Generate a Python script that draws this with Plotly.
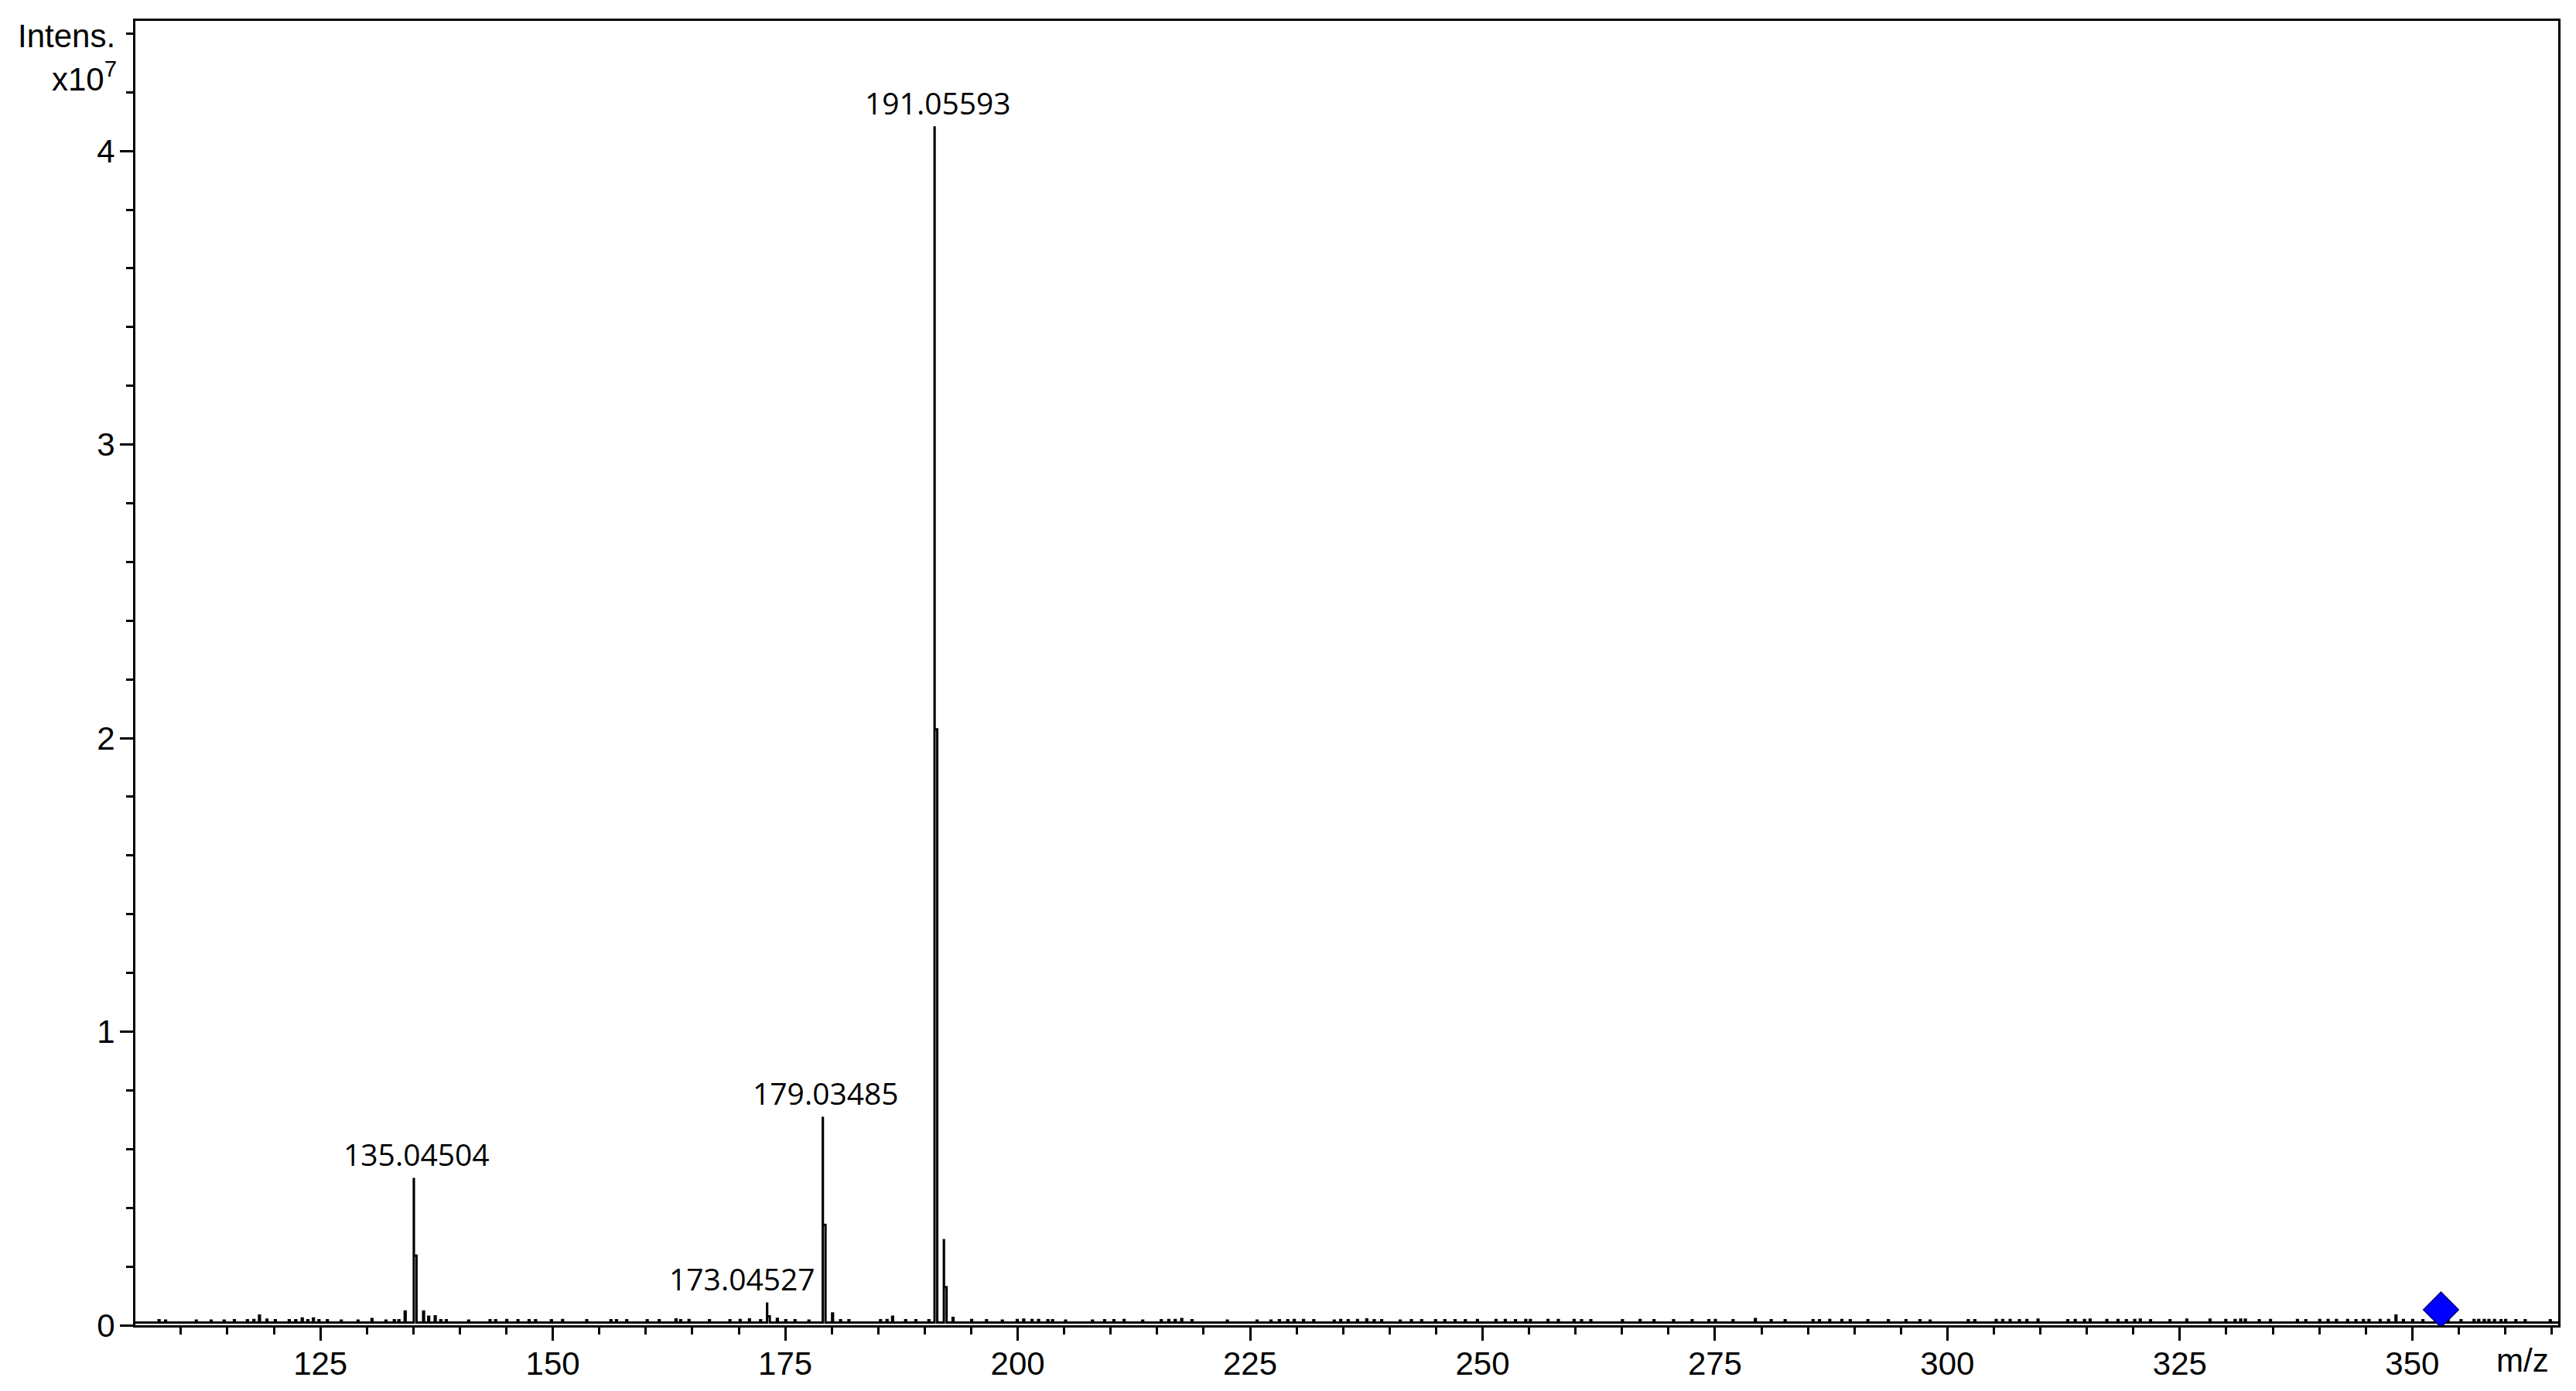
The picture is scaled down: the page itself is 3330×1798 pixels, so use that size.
import plotly.graph_objects as go

# ---------------- data (intensity in units of 1e7) ----------------
# profile points of the main peaks (apex followed by the lower shoulder point)
peak_mz = [134.07, 135.045, 135.06, 136.05, 137.3, 173.045, 173.06, 179.035, 179.05,
           180.04, 191.056, 191.07, 192.06, 192.075, 193.0]
peak_int = [0.047, 0.498, 0.237, 0.047, 0.03, 0.074, 0.03, 0.706, 0.342,
            0.04, 4.08, 2.03, 0.29, 0.13, 0.025]

noise_floor = 0.009
# baseline noise: (m/z, height above the noise floor)
noise_spikes = [
    (107.6, 0.008), (108.3, 0.007), (111.6, 0.007), (113.2, 0.007), (114.6, 0.007), (115.7, 0.008),
    (117.1, 0.008), (117.8, 0.009), (118.4, 0.024), (119.2, 0.010), (120.1, 0.008), (121.6, 0.008),
    (122.3, 0.008), (123.0, 0.014), (123.6, 0.008), (124.2, 0.014), (124.8, 0.008), (125.7, 0.008),
    (127.2, 0.007), (129.0, 0.007), (130.5, 0.012), (132.0, 0.007), (132.9, 0.008), (133.4, 0.008),
    (136.6, 0.020), (137.9, 0.008), (138.5, 0.008), (140.9, 0.007), (143.2, 0.008), (143.8, 0.008),
    (145.0, 0.009), (146.2, 0.008), (147.4, 0.008), (148.1, 0.008), (149.8, 0.008), (151.0, 0.009),
    (153.6, 0.008), (156.2, 0.008), (156.8, 0.008), (157.9, 0.008), (160.1, 0.008), (161.4, 0.008),
    (163.2, 0.011), (163.7, 0.008), (164.6, 0.009), (166.8, 0.008), (169.0, 0.008), (170.1, 0.009),
    (171.1, 0.011), (172.3, 0.008), (174.1, 0.013), (175.0, 0.008), (176.0, 0.008), (177.5, 0.007),
    (180.9, 0.008), (181.8, 0.008), (185.2, 0.008), (185.9, 0.009), (186.5, 0.020), (187.9, 0.008),
    (189.0, 0.008), (190.4, 0.008), (195.0, 0.009), (196.6, 0.008), (198.3, 0.007), (199.9, 0.009),
    (200.6, 0.010), (201.5, 0.009), (202.2, 0.009), (203.2, 0.008), (203.7, 0.008), (205.1, 0.007),
    (208.0, 0.007), (209.3, 0.008), (210.3, 0.008), (211.4, 0.009), (213.4, 0.007), (215.4, 0.008),
    (216.2, 0.009), (216.9, 0.009), (217.6, 0.012), (218.7, 0.008), (222.5, 0.007), (225.7, 0.007),
    (227.2, 0.007), (228.1, 0.008), (229.0, 0.008), (229.7, 0.009), (230.7, 0.009), (231.8, 0.008),
    (234.0, 0.007), (234.7, 0.009), (235.5, 0.008), (236.5, 0.009), (237.5, 0.011), (238.3, 0.008),
    (239.1, 0.008), (241.1, 0.007), (242.3, 0.008), (243.4, 0.008), (244.9, 0.008), (245.9, 0.008),
    (247.0, 0.008), (248.1, 0.008), (249.4, 0.009), (251.4, 0.009), (252.4, 0.009), (253.5, 0.008),
    (254.6, 0.009), (255.1, 0.009), (257.0, 0.009), (258.1, 0.009), (259.8, 0.009), (260.6, 0.008),
    (261.6, 0.008), (265.0, 0.008), (266.9, 0.009), (268.4, 0.008), (270.5, 0.008), (272.5, 0.008),
    (274.3, 0.008), (275.0, 0.009), (276.9, 0.008), (279.3, 0.012), (281.0, 0.008), (282.5, 0.008),
    (285.5, 0.008), (286.2, 0.008), (287.3, 0.009), (288.6, 0.009), (289.5, 0.008), (291.4, 0.008),
    (293.6, 0.008), (295.5, 0.008), (297.0, 0.008), (298.1, 0.007), (302.2, 0.008), (302.9, 0.008),
    (305.2, 0.009), (305.9, 0.009), (306.7, 0.009), (307.7, 0.008), (308.5, 0.009), (309.7, 0.010),
    (312.9, 0.008), (313.7, 0.009), (314.7, 0.009), (315.3, 0.010), (317.1, 0.009), (318.3, 0.009),
    (319.2, 0.008), (320.1, 0.009), (320.7, 0.010), (321.8, 0.008), (323.9, 0.008), (325.7, 0.010),
    (328.2, 0.010), (329.9, 0.009), (330.9, 0.009), (331.5, 0.010), (332.0, 0.010), (333.5, 0.008),
    (334.7, 0.009), (337.6, 0.009), (338.5, 0.008), (340.0, 0.009), (340.9, 0.009), (341.8, 0.009),
    (343.0, 0.009), (343.9, 0.008), (344.7, 0.009), (345.3, 0.009), (346.5, 0.009), (347.4, 0.009),
    (348.2, 0.024), (349.0, 0.009), (350.0, 0.009), (351.1, 0.008), (352.7, 0.009), (353.8, 0.008),
    (355.2, 0.008), (356.6, 0.009), (357.1, 0.009), (357.7, 0.009), (358.2, 0.009), (358.8, 0.009),
    (359.5, 0.008), (360.0, 0.009), (361.1, 0.008), (362.1, 0.008), (364.8, 0.008),
]

label_mz = [135.04504, 173.04527, 179.03485, 191.05593]
label_int = [0.498, 0.074, 0.706, 4.08]
label_text = ["135.04504", "173.04527", "179.03485", "191.05593"]
label_xshift = [4, -32, 4, 4]

precursor_mz = [353.09]
precursor_int = [0.053]

x_range = [105.1, 365.7]
y_range = [0.0, 4.443]

# ---------------- build profile line ----------------
pts = sorted([(m, h, True) for m, h in zip(peak_mz, peak_int)] +
             [(m, noise_floor + h, False) for m, h in noise_spikes])
xs, ys = [x_range[0]], [noise_floor]
for i, (m, h, is_peak) in enumerate(pts):
    xs.append(m)
    ys.append(h)
    nxt = pts[i + 1][0] if i + 1 < len(pts) else None
    if nxt is None or nxt - m > 0.25:
        grouped = is_peak and i > 0 and m - pts[i - 1][0] < 0.25
        xs.append(m + (0.28 if grouped else 0.1))
        ys.append(noise_floor)
xs.append(x_range[1])
ys.append(noise_floor)

tick_font = dict(family="Liberation Sans Narrow, Liberation Sans, Arial", size=42, color="black")
label_font = dict(family="Open Sans, Noto Sans, DejaVu Sans", size=39, color="black")

fig = go.Figure()
fig.add_trace(go.Scatter(x=xs, y=ys, mode="lines", line=dict(color="black", width=3, shape="hv"),
                         hoverinfo="skip", showlegend=False))
fig.add_trace(go.Scatter(x=precursor_mz, y=precursor_int, mode="markers",
                         marker=dict(symbol="diamond", size=35, color="#0000FF",
                                     line=dict(color="#000080", width=1.5)),
                         showlegend=False))

for m, h, t, dx in zip(label_mz, label_int, label_text, label_xshift):
    fig.add_annotation(x=m, y=h, text=t, showarrow=False, xanchor="center", yanchor="bottom",
                       yshift=4, xshift=dx, font=label_font)

fig.add_annotation(xref="paper", yref="paper", x=0, y=0.9887, text="Intens.", showarrow=False,
                   xanchor="right", yanchor="middle", xshift=-24, font=tick_font)
fig.add_annotation(xref="paper", yref="paper", x=0, y=0.957, text="x10<sup>7</sup>", showarrow=False,
                   xanchor="right", yanchor="middle", xshift=-22, font=tick_font)
fig.add_annotation(xref="paper", yref="paper", x=1, y=-0.027, text="m/z", showarrow=False,
                   xanchor="right", yanchor="middle", xshift=-10, font=tick_font)

fig.update_xaxes(range=x_range, showline=True, linecolor="black", linewidth=3, mirror=True,
                 showgrid=False, zeroline=False, tick0=0, dtick=25, ticks="outside",
                 ticklen=17, tickwidth=3, tickcolor="black", tickfont=tick_font,
                 ticklabelstandoff=-6, automargin=False,
                 minor=dict(dtick=5, ticks="outside", ticklen=9, tickwidth=3, tickcolor="black",
                            showgrid=False))
fig.update_yaxes(range=y_range, showline=True, linecolor="black", linewidth=3, mirror=True,
                 showgrid=False, zeroline=False, tick0=0, dtick=1, ticks="outside",
                 ticklen=17, tickwidth=3, tickcolor="black", tickfont=tick_font,
                 ticklabelstandoff=-2, automargin=False,
                 minor=dict(dtick=0.2, ticks="outside", ticklen=9, tickwidth=3, tickcolor="black",
                            showgrid=False))

fig.update_layout(width=3330, height=1798, plot_bgcolor="white", paper_bgcolor="white",
                  margin=dict(l=175, r=23, t=27, b=85), showlegend=False)

fig.write_html("out.html", config={"displayModeBar": False},
               post_script="document.body.style.margin='0';")
